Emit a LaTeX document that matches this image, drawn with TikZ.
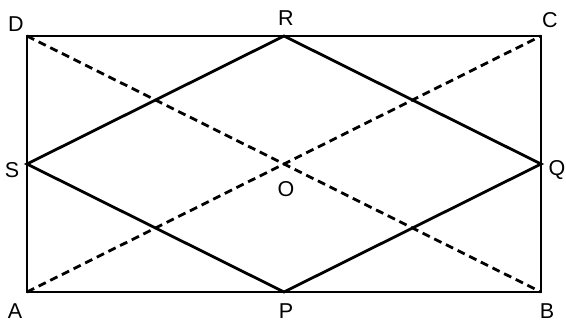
\documentclass[tikz,border=0pt]{standalone}
\usepackage{fontspec}
\setmainfont{Liberation Sans}
\begin{document}
\begin{tikzpicture}[x=1pt,y=-1pt,
  solidline/.style={line width=2.8pt, line join=miter},
  dashline/.style={line width=2.8pt, dash pattern=on 8pt off 5pt},
  lbl/.style={font=\fontsize{21.5}{25}\selectfont, inner sep=0pt}]
\useasboundingbox (0,0) rectangle (566,323);
\coordinate (A) at (27,292);
\coordinate (B) at (541,292);
\coordinate (C) at (541,36);
\coordinate (D) at (27,36);
\coordinate (P) at (284,292);
\coordinate (Q) at (541,164);
\coordinate (R) at (284,36);
\coordinate (S) at (27,164);
\coordinate (O) at (284,164);
\draw[dashline] (A) -- (C);
\draw[dashline] (D) -- (B);
\draw[solidline] (A) -- (B) -- (C) -- (D) -- cycle;
\draw[solidline] (P) -- (Q) -- (R) -- (S) -- cycle;
\node[lbl] (lD) at (16,24) {D};
\node[lbl] (lR) at (286,18) {R};
\node[lbl] (lC) at (550,20) {C};
\node[lbl] (lS) at (12,170) {S};
\node[lbl] (lQ) at (557,170) {Q};
\node[lbl] (lO) at (286,189) {O};
\node[lbl] (lA) at (15,311) {A};
\node[lbl] (lP) at (286,311) {P};
\node[lbl] (lB) at (547,311) {B};
\end{tikzpicture}
\end{document}
